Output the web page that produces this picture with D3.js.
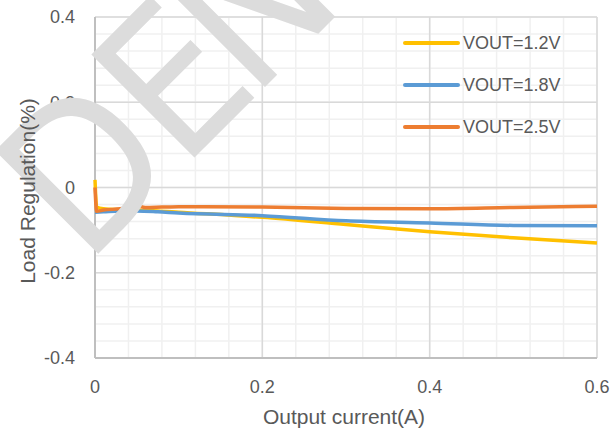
<!DOCTYPE html>
<html>
<head>
<meta charset="utf-8">
<script src="https://cdn.jsdelivr.net/npm/d3@7"></script>
<style>
  body { margin: 0; background: #fff; }
  text { font-family: "Liberation Sans", Arial, sans-serif; fill: #595959; }
</style>
</head>
<body>
<div id="chart"></div>
<script>
// output current (A) sample points
var X12 = [0, 0.002, 0.01, 0.03, 0.05, 0.075, 0.1, 0.2, 0.3, 0.4, 0.5, 0.6];
var V12 = [0.018, -0.046, -0.05, -0.052, -0.053, -0.055, -0.058, -0.07, -0.087, -0.104, -0.118, -0.13];
var X18 = [0, 0.01, 0.03, 0.05, 0.075, 0.1, 0.2, 0.3, 0.4, 0.5, 0.6];
var V18 = [-0.058, -0.057, -0.055, -0.055, -0.057, -0.06, -0.066, -0.078, -0.083, -0.089, -0.09];
var X25 = [0, 0.002, 0.01, 0.03, 0.05, 0.06, 0.08, 0.1, 0.2, 0.3, 0.4, 0.5, 0.6];
var V25 = [0.0, -0.056, -0.053, -0.05, -0.043, -0.047, -0.046, -0.045, -0.046, -0.049, -0.05, -0.047, -0.044];
var LABELS = ["VOUT=1.2V", "VOUT=1.8V", "VOUT=2.5V"];
var COLORS = ["#FFC000", "#5B9BD5", "#ED7D31"];
var XTICKS = [0, 0.2, 0.4, 0.6];
var YTICKS = [-0.4, -0.2, 0, 0.2, 0.4];
var WATERMARK = ["D", "E", "N"];

var W = 613, H = 430;
var margin = {top: 17, right: 16, bottom: 72, left: 95};
var width = W - margin.left - margin.right,
    height = H - margin.top - margin.bottom;

var svg = d3.select("#chart").append("svg")
    .attr("width", W)
    .attr("height", H);

var x = d3.scaleLinear().domain([0, 0.6]).range([0, width]);
var y = d3.scaleLinear().domain([-0.4, 0.4]).range([height, 0]);

var g = svg.append("g")
    .attr("transform", "translate(" + margin.left + "," + margin.top + ")");

// minor grid
var minor = d3.range(0, 0.6001, 0.04);
var minorY = d3.range(-0.4, 0.4001, 0.04);
g.selectAll(".mx").data(minor).enter().append("line")
    .attr("x1", function(d) { return x(d); }).attr("x2", function(d) { return x(d); })
    .attr("y1", 0).attr("y2", height)
    .attr("stroke", "#f0f0f0").attr("stroke-width", 1.5);
g.selectAll(".my").data(minorY).enter().append("line")
    .attr("y1", function(d) { return y(d); }).attr("y2", function(d) { return y(d); })
    .attr("x1", 0).attr("x2", width)
    .attr("stroke", "#f0f0f0").attr("stroke-width", 1.5);

// major grid
g.selectAll(".gx").data(XTICKS).enter().append("line")
    .attr("x1", function(d) { return x(d); }).attr("x2", function(d) { return x(d); })
    .attr("y1", 0).attr("y2", height)
    .attr("stroke", "#d9d9d9").attr("stroke-width", 1.5);
g.selectAll(".gy").data(YTICKS).enter().append("line")
    .attr("y1", function(d) { return y(d); }).attr("y2", function(d) { return y(d); })
    .attr("x1", 0).attr("x2", width)
    .attr("stroke", "#d9d9d9").attr("stroke-width", 1.5);

// watermark, letters set one by one along a 45 degree baseline
var wm = svg.append("g")
    .attr("transform", "translate(201,151) rotate(-45)");
var wmPos = [-163, -27, 73];
WATERMARK.forEach(function(ch, i) {
  wm.append("text")
      .attr("x", wmPos[i]).attr("y", 0)
      .style("font-family", "DejaVu Sans Condensed")
      .style("font-size", "200px")
      .style("fill", "#dcdcdc")
      .text(ch);
});

// axis lines
g.append("line").attr("x1", 0).attr("x2", 0).attr("y1", 0).attr("y2", height)
    .attr("stroke", "#bfbfbf").attr("stroke-width", 2);
g.append("line").attr("x1", 0).attr("x2", width).attr("y1", height).attr("y2", height)
    .attr("stroke", "#bfbfbf").attr("stroke-width", 2);

// tick labels
var fmt = function(d) { return d === 0 ? "0" : d.toFixed(1); };
g.selectAll(".yl").data(YTICKS).enter().append("text")
    .attr("x", -20).attr("y", function(d) { return y(d); })
    .attr("dy", "0.35em")
    .attr("text-anchor", "end")
    .style("font-size", "18px")
    .text(fmt);
g.selectAll(".xl").data(XTICKS).enter().append("text")
    .attr("x", function(d) { return x(d); }).attr("y", height + 35)
    .attr("text-anchor", "middle")
    .style("font-size", "18px")
    .text(fmt);

// axis titles
svg.append("text")
    .attr("x", margin.left + width / 2 - 2).attr("y", 424)
    .attr("text-anchor", "middle")
    .style("font-size", "21px")
    .text("Output current(A)");
svg.append("text")
    .attr("transform", "translate(35,191) rotate(-90)")
    .attr("text-anchor", "middle")
    .style("font-size", "21px")
    .text("Load Regulation(%)");

// series
var series = [
  {xs: X12, vs: V12},
  {xs: X18, vs: V18},
  {xs: X25, vs: V25}
];
var line = d3.line()
    .x(function(d) { return x(d[0]); })
    .y(function(d) { return y(d[1]); })
    .curve(d3.curveMonotoneX);

series.forEach(function(s, i) {
  g.append("path")
      .datum(d3.zip(s.xs, s.vs))
      .attr("fill", "none")
      .attr("stroke", COLORS[i])
      .attr("stroke-width", 3.5)
      .attr("stroke-linejoin", "round")
      .attr("d", line);
});

// legend
var leg = svg.append("g").attr("transform", "translate(405,43)");
LABELS.forEach(function(l, i) {
  var row = leg.append("g").attr("transform", "translate(0," + (i * 42) + ")");
  row.append("line").attr("x1", 0).attr("x2", 53).attr("y1", 0).attr("y2", 0)
      .attr("stroke", COLORS[i]).attr("stroke-width", 4).attr("stroke-linecap", "round");
  row.append("text").attr("x", 58).attr("y", 0).attr("dy", "0.35em")
      .style("font-size", "18px")
      .text(l);
});
</script>
</body>
</html>
